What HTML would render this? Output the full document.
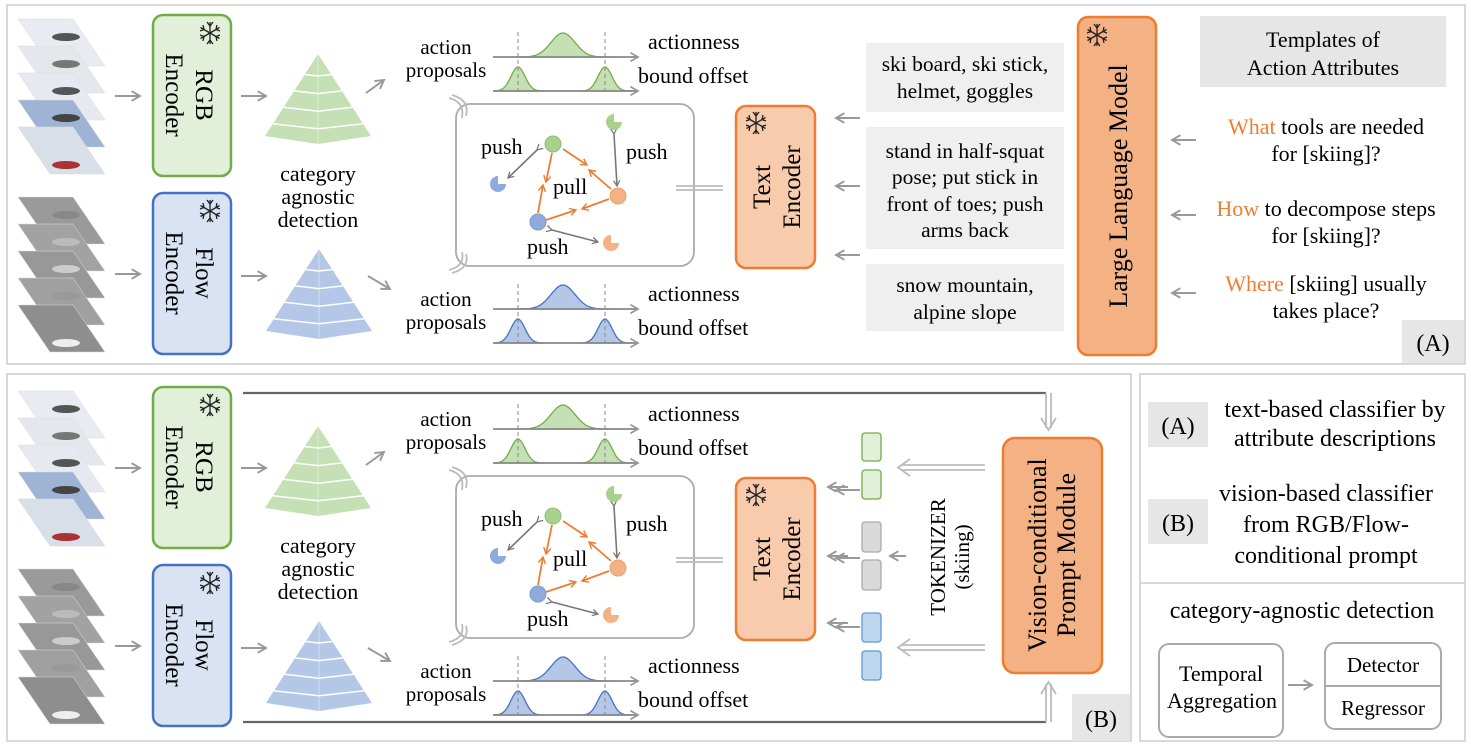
<!DOCTYPE html>
<html><head><meta charset="utf-8"><style>
html,body{margin:0;padding:0;background:#fff}
svg{display:block}
svg text{font-family:"Liberation Serif",serif}
</style></head><body>
<svg id="s" width="1471" height="747" viewBox="0 0 1471 747" xmlns="http://www.w3.org/2000/svg" font-family="Liberation Serif, serif">
<defs>
<marker id="ag" viewBox="0 0 10 10" refX="8" refY="5" markerWidth="6" markerHeight="6" orient="auto"><path d="M1,1 L8,5 L1,9" fill="none" stroke="#999" stroke-width="1.6"/></marker>
<marker id="ao" viewBox="0 0 10 10" refX="8" refY="5" markerWidth="5" markerHeight="5" orient="auto"><path d="M1,1 L8,5 L1,9" fill="none" stroke="#ed7d31" stroke-width="1.6"/></marker>
<marker id="ad" viewBox="0 0 10 10" refX="8" refY="5" markerWidth="5" markerHeight="5" orient="auto"><path d="M1,1 L8,5 L1,9" fill="none" stroke="#777" stroke-width="1.6"/></marker>
<g id="snow" stroke="#222" stroke-width="1.3" fill="none">
 <line x1="0" y1="-11" x2="0" y2="11"/>
 <line x1="-9.5" y1="-5.5" x2="9.5" y2="5.5"/>
 <line x1="-9.5" y1="5.5" x2="9.5" y2="-5.5"/>
 <path d="M-3,-11L0,-7L3,-11M-3,11L0,7L3,11M-10,-2L-6,-3.5L-7,-8M10,2L6,3.5L7,8M-10,2L-6,3.5L-7,8M10,-2L6,-3.5L7,-8"/>
</g>
</defs>

<rect x="7" y="5" width="1458" height="359" fill="none" stroke="#ccc" stroke-width="1.5"/>
<rect x="7" y="374" width="1124" height="367" fill="none" stroke="#ccc" stroke-width="1.5"/>
<rect x="1140" y="374" width="325" height="367" fill="none" stroke="#ccc" stroke-width="1.5"/>
<line x1="1140" y1="583" x2="1465" y2="583" stroke="#ccc" stroke-width="1.5"/>

<g id="module">
 <g id="rgbframes"></g>
 <g id="flowframes"></g>
 <g stroke="#999" stroke-width="2" fill="none">
  <line x1="115" y1="96" x2="140" y2="96" marker-end="url(#ag)"/>
  <line x1="115" y1="274" x2="140" y2="274" marker-end="url(#ag)"/>
  <line x1="241" y1="96" x2="266" y2="96" marker-end="url(#ag)"/>
  <line x1="241" y1="276" x2="266" y2="276" marker-end="url(#ag)"/>
  <line x1="366" y1="93" x2="384" y2="80" marker-end="url(#ag)"/>
  <line x1="368" y1="276" x2="390" y2="289" marker-end="url(#ag)"/>
  <line x1="860" y1="118" x2="836" y2="118" marker-end="url(#ag)"/>
  <line x1="860" y1="186" x2="836" y2="186" marker-end="url(#ag)"/>
  <line x1="860" y1="255" x2="836" y2="255" marker-end="url(#ag)"/>
 </g>
 <rect x="153" y="15" width="78" height="161" rx="10" fill="#e2efd9" stroke="#70ad47" stroke-width="2.5"/>
 <use href="#snow" x="210" y="33"/>
 <text transform="translate(196,95) rotate(90)" text-anchor="middle" font-size="25">RGB</text>
 <text transform="translate(166,95) rotate(90)" text-anchor="middle" font-size="25">Encoder</text>
 <rect x="153" y="193" width="78" height="161" rx="10" fill="#dae3f3" stroke="#4472c4" stroke-width="2.5"/>
 <use href="#snow" x="210" y="211"/>
 <text transform="translate(196,273) rotate(90)" text-anchor="middle" font-size="25">Flow</text>
 <text transform="translate(166,273) rotate(90)" text-anchor="middle" font-size="25">Encoder</text>
 <g id="pyrG"></g>
 <g id="pyrB"></g>
 <text x="318" y="181" text-anchor="middle" font-size="22">category</text>
 <text x="318" y="204" text-anchor="middle" font-size="22">agnostic</text>
 <text x="318" y="227" text-anchor="middle" font-size="22">detection</text>
 <text x="446" y="54" text-anchor="middle" font-size="21">action</text>
 <text x="446" y="77" text-anchor="middle" font-size="21">proposals</text>
 <text x="446" y="306" text-anchor="middle" font-size="21">action</text>
 <text x="446" y="329" text-anchor="middle" font-size="21">proposals</text>
 <g id="curves"></g>
 <text x="648" y="49" font-size="22">actionness</text>
 <text x="638" y="83" font-size="22">bound offset</text>
 <text x="648" y="301" font-size="22">actionness</text>
 <text x="638" y="335" font-size="22">bound offset</text>
 <rect x="456" y="104" width="238" height="162" rx="14" fill="none" stroke="#aaa" stroke-width="1.8"/>
 <g stroke="#bbb" stroke-width="1.8" fill="none">
  <path d="M449,98 Q465,102 462,118 M452,95 Q470,100 466,116"/>
  <path d="M449,270 Q465,266 462,252 M452,273 Q470,268 466,254"/>
  <line x1="676" y1="186" x2="723" y2="186"/><line x1="676" y1="190" x2="723" y2="190"/>
 </g>
 <g stroke="#ed7d31" stroke-width="1.8" fill="none">
  <line x1="552" y1="153" x2="546" y2="182" marker-end="url(#ao)"/>
  <line x1="538" y1="213" x2="543" y2="185" marker-end="url(#ao)"/>
  <line x1="563" y1="149" x2="587" y2="165" marker-end="url(#ao)"/>
  <line x1="611" y1="189" x2="589" y2="170" marker-end="url(#ao)"/>
  <line x1="546" y1="220" x2="576" y2="210" marker-end="url(#ao)"/>
  <line x1="609" y1="199" x2="582" y2="209" marker-end="url(#ao)"/>
 </g>
 <g stroke="#777" stroke-width="1.6" fill="none">
  <line x1="537" y1="150" x2="508" y2="178" marker-end="url(#ad)" marker-start="url(#ad)"/>
  <line x1="614" y1="134" x2="617" y2="186" marker-end="url(#ad)" marker-start="url(#ad)"/>
  <line x1="552" y1="230" x2="598" y2="242" marker-end="url(#ad)" marker-start="url(#ad)"/>
 </g>
 <circle cx="553" cy="144" r="8" fill="#a9d18e" stroke="#8fc073"/>
 <circle cx="618" cy="196" r="8" fill="#f4b183" stroke="#e9a070"/>
 <circle cx="538" cy="222" r="8" fill="#8faadc" stroke="#7b98d0"/>
 <path d="M498,184 L506,184 A8,8 0 1 1 498,176 Z" fill="#8faadc"/>
 <path d="M614,122 L622,122 A8,8 0 1 1 614,114 Z" fill="#a9d18e"/>
 <path d="M611,243 L619,243 A8,8 0 1 1 611,235 Z" fill="#f4b183"/>
 <text x="481" y="154" font-size="22">push</text>
 <text x="626" y="159" font-size="22">push</text>
 <text x="553" y="194" font-size="22">pull</text>
 <text x="527" y="254" font-size="22">push</text>
 <rect x="736" y="106" width="79" height="162" rx="10" fill="#f8cbad" stroke="#ed7d31" stroke-width="2.5"/>
 <use href="#snow" x="756" y="123"/>
 <text transform="translate(770,187) rotate(-90)" text-anchor="middle" font-size="25">Text</text>
 <text transform="translate(800,187) rotate(-90)" text-anchor="middle" font-size="25">Encoder</text>
</g>

<g font-size="21.5" text-anchor="middle">
 <rect x="866" y="43" width="198" height="69" fill="#efefef"/>
 <text x="965" y="71">ski board, ski stick,</text><text x="965" y="98">helmet, goggles</text>
 <rect x="866" y="127" width="198" height="122" fill="#efefef"/>
 <text x="965" y="158">stand in half-squat</text><text x="965" y="184">pose; put stick in</text><text x="965" y="211">front of toes; push</text><text x="965" y="237">arms back</text>
 <rect x="866" y="264" width="198" height="67" fill="#efefef"/>
 <text x="965" y="292">snow mountain,</text><text x="965" y="319">alpine slope</text>
</g>
<rect x="1078" y="17" width="78" height="338" rx="10" fill="#f4b183" stroke="#ed7d31" stroke-width="2.5"/>
<use href="#snow" x="1097" y="35"/>
<text transform="translate(1127,186) rotate(-90)" text-anchor="middle" font-size="26">Large Language Model</text>
<g stroke="#999" stroke-width="2" fill="none">
 <line x1="1196" y1="140" x2="1172" y2="140" marker-end="url(#ag)"/>
 <line x1="1196" y1="215" x2="1172" y2="215" marker-end="url(#ag)"/>
 <line x1="1196" y1="293" x2="1172" y2="293" marker-end="url(#ag)"/>
</g>
<rect x="1200" y="16" width="246" height="71" fill="#e6e6e6"/>
<g font-size="22" text-anchor="middle">
 <text x="1323" y="47">Templates of</text><text x="1323" y="75">Action Attributes</text>
 <text x="1326" y="134"><tspan fill="#ed7d31">What</tspan> tools are needed</text><text x="1326" y="161">for [skiing]?</text>
 <text x="1326" y="216"><tspan fill="#ed7d31">How</tspan> to decompose steps</text><text x="1326" y="243">for [skiing]?</text>
 <text x="1326" y="291"><tspan fill="#ed7d31">Where</tspan> [skiing] usually</text><text x="1326" y="318">takes place?</text>
</g>
<rect x="1402" y="320" width="62" height="43" fill="#e6e6e6"/>
<text x="1433" y="351" text-anchor="middle" font-size="24">(A)</text>

<g stroke="#666" stroke-width="2.2" fill="none">
 <line x1="243" y1="393" x2="1046" y2="393"/>
 <line x1="243" y1="722" x2="1046" y2="722"/>
</g>
<g stroke="#bbb" stroke-width="1.8" fill="none">
 <line x1="1046" y1="393" x2="1046" y2="428"/><line x1="1051" y1="393" x2="1051" y2="428"/>
 <path d="M1041,418 L1048.5,430 L1056,418"/>
 <line x1="1046" y1="722" x2="1046" y2="684"/><line x1="1051" y1="722" x2="1051" y2="684"/>
 <path d="M1041,694 L1048.5,682 L1056,694"/>
 <line x1="985" y1="465" x2="901" y2="465"/><line x1="985" y1="470" x2="901" y2="470"/>
 <path d="M910,459 L898,467.5 L910,476"/>
 <line x1="985" y1="645" x2="901" y2="645"/><line x1="985" y1="650" x2="901" y2="650"/>
 <path d="M910,639 L898,647.5 L910,656"/>
 <line x1="906" y1="556" x2="890" y2="556" stroke="#999" stroke-width="2" marker-end="url(#ag)"/>
 <line x1="848" y1="487" x2="828" y2="487" stroke="#999" stroke-width="2" marker-end="url(#ag)"/>
 <line x1="848" y1="556" x2="828" y2="556" stroke="#999" stroke-width="2" marker-end="url(#ag)"/>
 <line x1="848" y1="623" x2="828" y2="623" stroke="#999" stroke-width="2" marker-end="url(#ag)"/>
</g>
<g stroke-width="1.3">
 <rect x="862" y="433" width="19" height="28" rx="3" fill="#e2efd9" stroke="#70ad47"/>
 <rect x="862" y="470" width="19" height="29" rx="3" fill="#e2efd9" stroke="#70ad47"/>
 <rect x="862" y="522" width="19" height="30" rx="3" fill="#d9d9d9" stroke="#aaa"/>
 <rect x="862" y="560" width="19" height="30" rx="3" fill="#d9d9d9" stroke="#aaa"/>
 <rect x="862" y="613" width="19" height="29" rx="3" fill="#bdd7ee" stroke="#5b9bd5"/>
 <rect x="862" y="651" width="19" height="29" rx="3" fill="#bdd7ee" stroke="#5b9bd5"/>
</g>
<text transform="translate(945,557) rotate(-90)" text-anchor="middle" font-size="21">TOKENIZER</text>
<text transform="translate(969,557) rotate(-90)" text-anchor="middle" font-size="21">(skiing)</text>
<rect x="1003" y="438" width="99" height="235" rx="12" fill="#f4b183" stroke="#ed7d31" stroke-width="2.5"/>
<text transform="translate(1046,555) rotate(-90)" text-anchor="middle" font-size="26">Vision-conditional</text>
<text transform="translate(1075,555) rotate(-90)" text-anchor="middle" font-size="26">Prompt Module</text>
<rect x="1072" y="694" width="58" height="47" fill="#e6e6e6"/>
<text x="1101" y="727" text-anchor="middle" font-size="24">(B)</text>

<rect x="1148" y="402" width="60" height="45" fill="#e6e6e6"/>
<text x="1178" y="434" text-anchor="middle" font-size="24">(A)</text>
<rect x="1148" y="499" width="60" height="45" fill="#e6e6e6"/>
<text x="1178" y="531" text-anchor="middle" font-size="24">(B)</text>
<g font-size="24" text-anchor="middle">
 <text x="1335" y="417">text-based classifier by</text>
 <text x="1335" y="446">attribute descriptions</text>
 <text x="1326" y="501">vision-based classifier</text>
 <text x="1326" y="532">from RGB/Flow-</text>
 <text x="1326" y="563">conditional prompt</text>
 <text x="1302" y="618">category-agnostic detection</text>
</g>
<rect x="1159" y="644" width="124" height="93" rx="10" fill="#fff" stroke="#aaa" stroke-width="2"/>
<text x="1221" y="681" text-anchor="middle" font-size="22">Temporal</text>
<text x="1222" y="708" text-anchor="middle" font-size="22">Aggregation</text>
<line x1="1288" y1="685" x2="1312" y2="685" stroke="#999" stroke-width="2" marker-end="url(#ag)"/>
<rect x="1325" y="643" width="116" height="86" rx="10" fill="#fff" stroke="#aaa" stroke-width="2"/>
<line x1="1325" y1="686" x2="1441" y2="686" stroke="#aaa" stroke-width="2"/>
<text x="1383" y="672" text-anchor="middle" font-size="21">Detector</text>
<text x="1383" y="715" text-anchor="middle" font-size="21">Regressor</text>
</svg>
<script>
var NS="http://www.w3.org/2000/svg";
function mk(p,t,a){var e=document.createElementNS(NS,t);for(var k in a)e.setAttribute(k,a[k]);p.appendChild(e);return e;}
function frames(g,y0,fills,acc){for(var i=0;i<5;i++){var y=y0+i*27;var x=18;
 mk(g,'polygon',{points:(x)+','+(y)+' '+(x+55)+','+y+' '+(x+87)+','+(y+47)+' '+(x+32)+','+(y+47),fill:fills[i],stroke:'#ddd','stroke-width':0.5});
 mk(g,'ellipse',{cx:x+48,cy:y+(i==4?38:18),rx:14,ry:4,fill:acc[i]});}}
frames(document.getElementById('rgbframes'),19,['#e8ebf2','#e4e7ec','#e6e9f0','#9fb4d4','#d8dfe9'],['#555','#777','#555','#444','#a33']);
frames(document.getElementById('flowframes'),197,['#9a9a9a','#a2a2a2','#989898','#a0a0a0','#8e8e8e'],['#888','#bbb','#ccc','#999','#eee']);
function pyr(g,ax,ay,by,hw,fill){mk(g,'polygon',{points:ax+','+ay+' '+(ax+hw)+','+by+' '+ax+','+(by+8)+' '+(ax-hw)+','+by,fill:fill});
 for(var i=1;i<5;i++){var t=i/5+0.05,y=ay+(by-ay)*t,w=hw*t;mk(g,'path',{d:'M'+(ax-w)+','+y+' L'+ax+','+(y+6*t)+' L'+(ax+w)+','+y,stroke:'#fff','stroke-width':1.5,fill:'none'});}
 mk(g,'line',{x1:ax,y1:ay,x2:ax,y2:by+8,stroke:'#fff','stroke-opacity':0.4});}
pyr(document.getElementById('pyrG'),318,54,136,53,'#c5e0b4');
pyr(document.getElementById('pyrB'),319,249,331,53,'#b4c7e7');
var cg=document.getElementById('curves');
function gauss(base,cx,h,s,x0,x1,fill,stroke){var d='M'+x0+','+base;for(var x=x0;x<=x1;x+=2){d+=' L'+x+','+(base-h*Math.exp(-Math.pow(x-cx,2)/(2*s*s))).toFixed(1);}d+=' L'+x1+','+base+'Z';mk(cg,'path',{d:d,fill:fill,stroke:stroke,'stroke-width':1.3});}
function prop(dy,fill,stroke){
 gauss(57+dy,563,24,12,515,610,fill,stroke);
 gauss(91+dy,518,24,7,495,545,fill,stroke);gauss(91+dy,605,24,7,578,632,fill,stroke);
 mk(cg,'line',{x1:518,y1:32+dy,x2:518,y2:91+dy,stroke:'#888','stroke-dasharray':'4,3'});
 mk(cg,'line',{x1:605,y1:32+dy,x2:605,y2:91+dy,stroke:'#888','stroke-dasharray':'4,3'});
 mk(cg,'line',{x1:493,y1:57+dy,x2:638,y2:57+dy,stroke:'#888','stroke-width':1.8,'marker-end':'url(#ag)'});
 mk(cg,'line',{x1:493,y1:91+dy,x2:638,y2:91+dy,stroke:'#888','stroke-width':1.8,'marker-end':'url(#ag)'});}
prop(0,'#c5e0b4','#70ad47');prop(252,'#b4c7e7','#4472c4');
var m=document.getElementById('module');var c=m.cloneNode(true);c.removeAttribute('id');c.setAttribute('transform','translate(0,372)');

m.parentNode.insertBefore(c,m.nextSibling);
</script>
</body></html>
